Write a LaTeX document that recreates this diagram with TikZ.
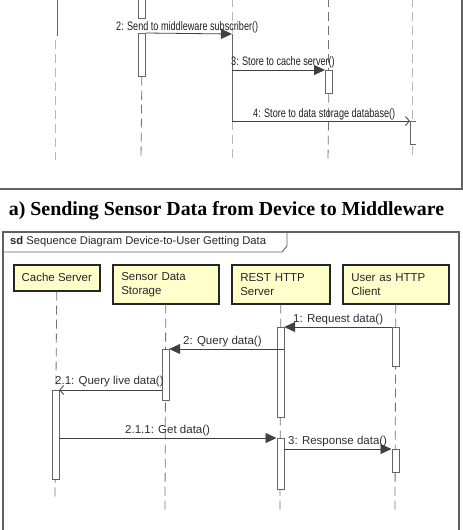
\documentclass[tikz,border=0pt]{standalone}
\usepackage{fontspec}
\setmainfont{Liberation Serif}
\newfontfamily\diag{Liberation Sans}
\newfontfamily\diagn[FakeStretch=0.74]{Liberation Sans}
\usetikzlibrary{arrows.meta}
\definecolor{headfill}{HTML}{FFFFCC}
\begin{document}
\begin{tikzpicture}[x=1pt,y=-1pt,
  frame/.style={draw=black!62, line width=1.1pt},
  life/.style={draw=black!55, line width=0.8pt, dash pattern=on 9pt off 5pt},
  lifelight/.style={draw=black!28, line width=0.8pt, dash pattern=on 9pt off 5pt},
  actbar/.style={draw=black!60, fill=white, line width=0.7pt, inner sep=0pt, minimum width=7pt, anchor=north west},
  msg/.style={draw=black!75, line width=0.8pt, -{Triangle[length=11pt,width=10pt]}},
  amsg/.style={draw=black!75, line width=0.8pt, -{Straight Barb[length=4pt,width=9pt]}},
  lbl/.style={font=\diag\fontsize{11.5}{13}\selectfont, text=black!82, inner sep=0pt, anchor=west},
  tlbl/.style={font=\diagn\fontsize{12.3}{14}\selectfont, text=black!88, inner sep=0pt, anchor=west},
  head/.style={draw=black!85, line width=1.5pt, fill=headfill, anchor=north west, inner ysep=2pt,
    font=\diag\fontsize{11.5}{14}\selectfont, text=black!85},
]
\useasboundingbox (0,0) rectangle (463,530);

% ---------------- top diagram (partial) ----------------
\draw[frame] (-2,189) -- (462,189) -- (462,-2);
\coordinate (d0) at (57,-2);
\coordinate (d1) at (57,36);
\draw[draw=black!60, line width=0.8pt] (d0) -- (d1);
\draw[lifelight] (55,40) -- (55,160);

% lifeline 2 (x=141)
\node[actbar, minimum height=23pt] (t1a) at (138,-5) {};
\node[actbar, minimum height=43pt] (t1b) at (138,33) {};
\draw[life] (t1b.south) -- (141,160);

% lifeline 3 (x=232)
\coordinate (s3top) at (232,34);
\coordinate (s3mid) at (232,70);
\coordinate (s3bot) at (232,121);
\draw[lifelight] (232,-2) -- (232,33);
\draw[draw=black!60, line width=0.8pt] (s3top) -- (s3bot);
\draw[lifelight] (s3bot) -- (232,160);

% lifeline 4 (x=328)
\draw[life] (328,-2) -- (328,70);
\node[actbar, minimum height=23pt] (t3) at (325,70) {};
\draw[life] (t3.south) -- (328,160);

% lifeline 5 (x=412)
\draw[lifelight] (412,-2) -- (412,121);
\node[actbar, draw=none, fill=none, minimum width=5pt, minimum height=23pt] (t4) at (410,121) {};
\draw[draw=black!60, line width=0.8pt] (t4.north east) -- (t4.north west) -- (t4.south west) -- (t4.south east);
\draw[lifelight] (412,146) -- (412,160);

% messages
\draw[msg] (t1b.north east) -- (s3top);
\node[tlbl] (l2) at (116,27) {2: Send to middleware subscriber()};
\draw[msg] (s3mid) -- (t3.north west);
\node[tlbl] (l3) at (231,62) {3: Store to cache server()};
\draw[amsg] (s3bot) -- (t4.north west);
\node[tlbl] (l4) at (253,114) {4: Store to data storage database()};

% ---------------- caption ----------------
\node[font=\bfseries\fontsize{19.9}{23}\selectfont, inner sep=0pt] (cap) at (226.5,211)
  {a) Sending Sensor Data from Device to Middleware};

% ---------------- bottom diagram ----------------
\draw[frame] (3,533) -- (3,232) -- (459,232) -- (459,533);
\draw[draw=black!62, line width=0.9pt] (3,252) -- (282,252) -- (287,246) -- (287,232);
\node[font=\diag\fontsize{11.2}{13}\selectfont, text=black!85, inner sep=0pt, anchor=west] (sd) at (10,242)
  {\textbf{sd} Sequence Diagram Device-to-User Getting Data};

% heads
\node[head, minimum width=86pt, minimum height=26pt, align=center] (cache) at (13,264) {Cache Server};
\node[head, minimum width=106pt, minimum height=39pt, text width=89pt, inner xsep=7.5pt, align=left] (sensor) at (112,264) {Sensor Data\\Storage};
\node[head, minimum width=98pt, minimum height=39pt, text width=81pt, inner xsep=7.5pt, align=left] (rest) at (231,264) {REST HTTP\\Server};
\node[head, minimum width=106pt, minimum height=39pt, text width=89pt, inner xsep=7.5pt, align=left] (user) at (342,264) {User as HTTP\\Client};

% lifelines
\draw[life] (cache.south) -- (55,499);
\draw[life] (sensor.south) -- (165,510);
\draw[life] (rest.south) -- (280,510);
\draw[life] (user.south) -- (395,510);

% activation bars
\node[actbar, minimum height=90pt] (ra1) at (276.5,327) {};
\node[actbar, minimum height=51pt] (ra2) at (276.5,438) {};
\node[actbar, minimum height=39pt] (ua1) at (391.5,327) {};
\node[actbar, minimum height=23pt] (ua2) at (391.5,449) {};
\node[actbar, minimum height=51pt] (sa1) at (161.5,349) {};
\node[actbar, minimum height=89pt] (ca1) at (51.5,390) {};

% messages
\coordinate (m2s) at (283.5,349);
\coordinate (m21s) at (161.5,390);
\coordinate (m211s) at (58.5,438);
\coordinate (m3s) at (283.5,449);
\draw[msg] (ua1.north west) -- (ra1.north east);
\node[lbl] (b1) at (293,320) {1: Request data()};
\draw[msg] (m2s) -- (sa1.north east);
\node[lbl] (b2) at (183,342) {2: Query data()};
\draw[amsg] (m21s) -- (ca1.north east);
\node[lbl] (b21) at (55,382) {2.1: Query live data()};
\draw[msg] (m211s) -- (ra2.north west);
\node[lbl] (b211) at (125,431) {2.1.1: Get data()};
\draw[msg] (m3s) -- (ua2.north west);
\node[lbl] (b3) at (288,442) {3: Response data()};
\end{tikzpicture}
\end{document}
